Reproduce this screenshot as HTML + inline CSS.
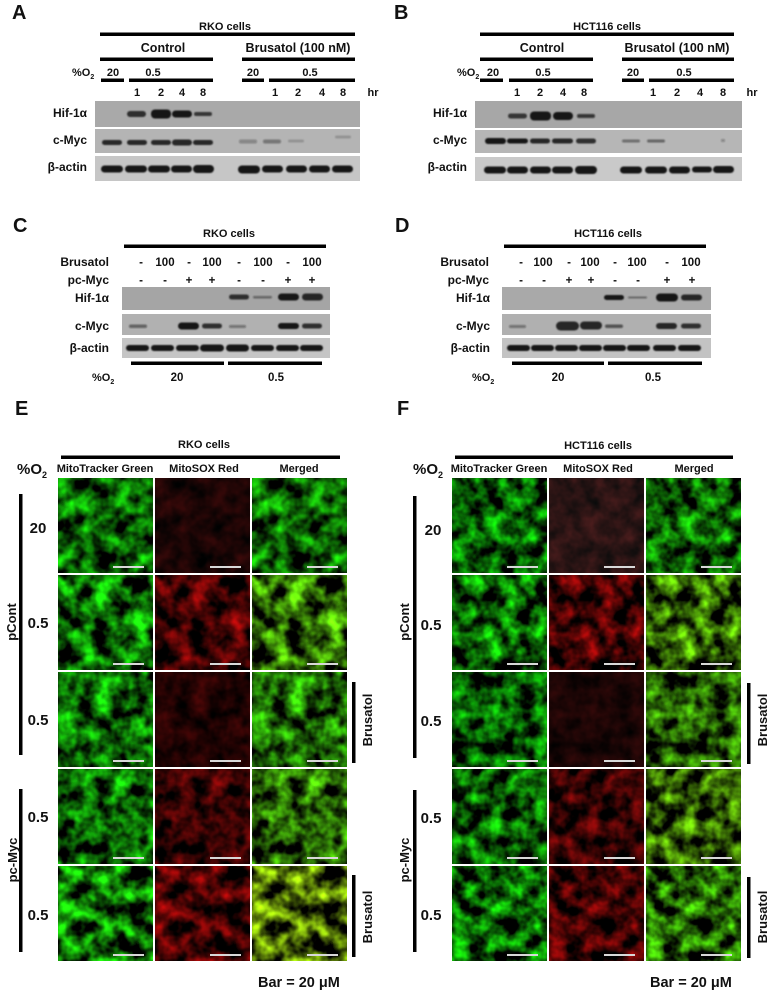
<!DOCTYPE html>
<html><head><meta charset="utf-8"><style>
html,body{margin:0;padding:0;background:#fff;}
svg{display:block;}
text{font-family:"Liberation Sans",Arial,sans-serif;font-weight:bold;fill:#111;}
</style></head><body>
<svg width="775" height="994" viewBox="0 0 775 994" xmlns="http://www.w3.org/2000/svg">
<defs>
<filter id="bl" x="-30%" y="-80%" width="160%" height="260%"><feGaussianBlur stdDeviation="0.9"/></filter>
<!-- E filters -->
<filter id="e1g" x="0" y="0" width="1" height="1" color-interpolation-filters="sRGB"><feTurbulence type="fractalNoise" baseFrequency="0.055" numOctaves="3" seed="11"/><feColorMatrix type="matrix" values="0.192 0 0 0 -0.06  1.92 0 0 0 -0.6  0.096 0 0 0 -0.03  0 0 0 0 1"/></filter>
<filter id="e1r" x="0" y="0" width="1" height="1" color-interpolation-filters="sRGB"><feTurbulence type="fractalNoise" baseFrequency="0.055" numOctaves="3" seed="11"/><feColorMatrix type="matrix" values="0.36 0 0 0 -0.0725  0.048 0 0 0 -0.005  0.048 0 0 0 -0.005  0 0 0 0 1"/></filter>
<filter id="e1m" x="0" y="0" width="1" height="1" color-interpolation-filters="sRGB"><feTurbulence type="fractalNoise" baseFrequency="0.055" numOctaves="3" seed="11"/><feColorMatrix type="matrix" values="0.24 0 0 0 -0.075  1.92 0 0 0 -0.6  0.096 0 0 0 -0.03  0 0 0 0 1"/></filter>

<filter id="e2g" x="0" y="0" width="1" height="1" color-interpolation-filters="sRGB"><feTurbulence type="fractalNoise" baseFrequency="0.055" numOctaves="3" seed="12"/><feColorMatrix type="matrix" values="0.24 0 0 0 -0.075  2.16 0 0 0 -0.675  0.12 0 0 0 -0.0375  0 0 0 0 1"/></filter>
<filter id="e2r" x="0" y="0" width="1" height="1" color-interpolation-filters="sRGB"><feTurbulence type="fractalNoise" baseFrequency="0.055" numOctaves="3" seed="12"/><feColorMatrix type="matrix" values="1.32 0 0 0 -0.4125  0.072 0 0 0 -0.0225  0.072 0 0 0 -0.0225  0 0 0 0 1"/></filter>
<filter id="e2m" x="0" y="0" width="1" height="1" color-interpolation-filters="sRGB"><feTurbulence type="fractalNoise" baseFrequency="0.055" numOctaves="3" seed="12"/><feColorMatrix type="matrix" values="0.96 0 0 0 -0.3  2.16 0 0 0 -0.675  0.12 0 0 0 -0.0375  0 0 0 0 1"/></filter>

<filter id="e3g" x="0" y="0" width="1" height="1" color-interpolation-filters="sRGB"><feTurbulence type="fractalNoise" baseFrequency="0.055" numOctaves="3" seed="13"/><feColorMatrix type="matrix" values="0.24 0 0 0 -0.075  2.16 0 0 0 -0.675  0.12 0 0 0 -0.0375  0 0 0 0 1"/></filter>
<filter id="e3r" x="0" y="0" width="1" height="1" color-interpolation-filters="sRGB"><feTurbulence type="fractalNoise" baseFrequency="0.055" numOctaves="3" seed="13"/><feColorMatrix type="matrix" values="0.528 0 0 0 -0.135  0.048 0 0 0 -0.015  0.048 0 0 0 -0.015  0 0 0 0 1"/></filter>
<filter id="e3m" x="0" y="0" width="1" height="1" color-interpolation-filters="sRGB"><feTurbulence type="fractalNoise" baseFrequency="0.055" numOctaves="3" seed="13"/><feColorMatrix type="matrix" values="0.6 0 0 0 -0.1875  2.16 0 0 0 -0.675  0.12 0 0 0 -0.0375  0 0 0 0 1"/></filter>

<filter id="e4g" x="0" y="0" width="1" height="1" color-interpolation-filters="sRGB"><feTurbulence type="fractalNoise" baseFrequency="0.055" numOctaves="3" seed="14"/><feColorMatrix type="matrix" values="0.24 0 0 0 -0.075  2.16 0 0 0 -0.675  0.12 0 0 0 -0.0375  0 0 0 0 1"/></filter>
<filter id="e4r" x="0" y="0" width="1" height="1" color-interpolation-filters="sRGB"><feTurbulence type="fractalNoise" baseFrequency="0.055" numOctaves="3" seed="14"/><feColorMatrix type="matrix" values="1.2 0 0 0 -0.375  0.072 0 0 0 -0.0225  0.072 0 0 0 -0.0225  0 0 0 0 1"/></filter>
<filter id="e4m" x="0" y="0" width="1" height="1" color-interpolation-filters="sRGB"><feTurbulence type="fractalNoise" baseFrequency="0.055" numOctaves="3" seed="14"/><feColorMatrix type="matrix" values="0.84 0 0 0 -0.2625  2.16 0 0 0 -0.675  0.12 0 0 0 -0.0375  0 0 0 0 1"/></filter>

<filter id="e5g" x="0" y="0" width="1" height="1" color-interpolation-filters="sRGB"><feTurbulence type="fractalNoise" baseFrequency="0.055" numOctaves="3" seed="15"/><feColorMatrix type="matrix" values="0.288 0 0 0 -0.09  2.28 0 0 0 -0.7125  0.12 0 0 0 -0.0375  0 0 0 0 1"/></filter>
<filter id="e5r" x="0" y="0" width="1" height="1" color-interpolation-filters="sRGB"><feTurbulence type="fractalNoise" baseFrequency="0.055" numOctaves="3" seed="15"/><feColorMatrix type="matrix" values="1.44 0 0 0 -0.45  0.072 0 0 0 -0.0225  0.072 0 0 0 -0.0225  0 0 0 0 1"/></filter>
<filter id="e5m" x="0" y="0" width="1" height="1" color-interpolation-filters="sRGB"><feTurbulence type="fractalNoise" baseFrequency="0.055" numOctaves="3" seed="15"/><feColorMatrix type="matrix" values="1.56 0 0 0 -0.4875  2.16 0 0 0 -0.675  0.144 0 0 0 -0.045  0 0 0 0 1"/></filter>
<!-- F filters -->
<filter id="f1g" x="0" y="0" width="1" height="1" color-interpolation-filters="sRGB"><feTurbulence type="fractalNoise" baseFrequency="0.06" numOctaves="3" seed="21"/><feColorMatrix type="matrix" values="0.144 0 0 0 -0.045  1.92 0 0 0 -0.6  0.096 0 0 0 -0.03  0 0 0 0 1"/></filter>
<filter id="f1r" x="0" y="0" width="1" height="1" color-interpolation-filters="sRGB"><feTurbulence type="fractalNoise" baseFrequency="0.06" numOctaves="3" seed="21"/><feColorMatrix type="matrix" values="0.36 0 0 0 -0.0125  0.096 0 0 0 0.03  0.096 0 0 0 0.03  0 0 0 0 1"/></filter>
<filter id="f1m" x="0" y="0" width="1" height="1" color-interpolation-filters="sRGB"><feTurbulence type="fractalNoise" baseFrequency="0.06" numOctaves="3" seed="21"/><feColorMatrix type="matrix" values="0.24 0 0 0 -0.075  1.92 0 0 0 -0.6  0.096 0 0 0 -0.03  0 0 0 0 1"/></filter>

<filter id="f2g" x="0" y="0" width="1" height="1" color-interpolation-filters="sRGB"><feTurbulence type="fractalNoise" baseFrequency="0.06" numOctaves="3" seed="22"/><feColorMatrix type="matrix" values="0.192 0 0 0 -0.06  1.92 0 0 0 -0.6  0.096 0 0 0 -0.03  0 0 0 0 1"/></filter>
<filter id="f2r" x="0" y="0" width="1" height="1" color-interpolation-filters="sRGB"><feTurbulence type="fractalNoise" baseFrequency="0.06" numOctaves="3" seed="22"/><feColorMatrix type="matrix" values="1.32 0 0 0 -0.4125  0.072 0 0 0 -0.0225  0.072 0 0 0 -0.0225  0 0 0 0 1"/></filter>
<filter id="f2m" x="0" y="0" width="1" height="1" color-interpolation-filters="sRGB"><feTurbulence type="fractalNoise" baseFrequency="0.06" numOctaves="3" seed="22"/><feColorMatrix type="matrix" values="0.96 0 0 0 -0.3  1.92 0 0 0 -0.6  0.096 0 0 0 -0.03  0 0 0 0 1"/></filter>

<filter id="f3g" x="0" y="0" width="1" height="1" color-interpolation-filters="sRGB"><feTurbulence type="fractalNoise" baseFrequency="0.06" numOctaves="3" seed="23"/><feColorMatrix type="matrix" values="0.144 0 0 0 -0.045  1.8 0 0 0 -0.5625  0.096 0 0 0 -0.03  0 0 0 0 1"/></filter>
<filter id="f3r" x="0" y="0" width="1" height="1" color-interpolation-filters="sRGB"><feTurbulence type="fractalNoise" baseFrequency="0.06" numOctaves="3" seed="23"/><feColorMatrix type="matrix" values="0.288 0 0 0 -0.04  0.048 0 0 0 -0.005  0.048 0 0 0 -0.005  0 0 0 0 1"/></filter>
<filter id="f3m" x="0" y="0" width="1" height="1" color-interpolation-filters="sRGB"><feTurbulence type="fractalNoise" baseFrequency="0.06" numOctaves="3" seed="23"/><feColorMatrix type="matrix" values="0.72 0 0 0 -0.225  1.8 0 0 0 -0.5625  0.096 0 0 0 -0.03  0 0 0 0 1"/></filter>

<filter id="f4g" x="0" y="0" width="1" height="1" color-interpolation-filters="sRGB"><feTurbulence type="fractalNoise" baseFrequency="0.06" numOctaves="3" seed="24"/><feColorMatrix type="matrix" values="0.192 0 0 0 -0.06  1.8 0 0 0 -0.5625  0.096 0 0 0 -0.03  0 0 0 0 1"/></filter>
<filter id="f4r" x="0" y="0" width="1" height="1" color-interpolation-filters="sRGB"><feTurbulence type="fractalNoise" baseFrequency="0.06" numOctaves="3" seed="24"/><feColorMatrix type="matrix" values="1.08 0 0 0 -0.3375  0.072 0 0 0 -0.0225  0.072 0 0 0 -0.0225  0 0 0 0 1"/></filter>
<filter id="f4m" x="0" y="0" width="1" height="1" color-interpolation-filters="sRGB"><feTurbulence type="fractalNoise" baseFrequency="0.06" numOctaves="3" seed="24"/><feColorMatrix type="matrix" values="0.96 0 0 0 -0.3  1.8 0 0 0 -0.5625  0.096 0 0 0 -0.03  0 0 0 0 1"/></filter>

<filter id="f5g" x="0" y="0" width="1" height="1" color-interpolation-filters="sRGB"><feTurbulence type="fractalNoise" baseFrequency="0.06" numOctaves="3" seed="25"/><feColorMatrix type="matrix" values="0.192 0 0 0 -0.06  2.04 0 0 0 -0.6375  0.096 0 0 0 -0.03  0 0 0 0 1"/></filter>
<filter id="f5r" x="0" y="0" width="1" height="1" color-interpolation-filters="sRGB"><feTurbulence type="fractalNoise" baseFrequency="0.06" numOctaves="3" seed="25"/><feColorMatrix type="matrix" values="1.32 0 0 0 -0.4125  0.072 0 0 0 -0.0225  0.072 0 0 0 -0.0225  0 0 0 0 1"/></filter>
<filter id="f5m" x="0" y="0" width="1" height="1" color-interpolation-filters="sRGB"><feTurbulence type="fractalNoise" baseFrequency="0.06" numOctaves="3" seed="25"/><feColorMatrix type="matrix" values="0.72 0 0 0 -0.225  2.04 0 0 0 -0.6375  0.096 0 0 0 -0.03  0 0 0 0 1"/></filter>
</defs>

<!-- ================= PANEL A ================= -->
<text x="12" y="19" font-size="20">A</text>
<text x="225" y="30" font-size="11" text-anchor="middle">RKO cells</text>
<rect x="100" y="32.5" width="255" height="3.5" fill="#000"/>
<text x="163" y="52" font-size="12.5" text-anchor="middle">Control</text>
<text x="298" y="52" font-size="12.5" text-anchor="middle">Brusatol (100 nM)</text>
<rect x="100" y="57.5" width="113" height="3.5" fill="#000"/>
<rect x="242" y="57.5" width="113" height="3.5" fill="#000"/>
<text x="72" y="76" font-size="11">%O<tspan font-size="7" dy="3">2</tspan></text>
<g font-size="11" text-anchor="middle">
<text x="113" y="76">20</text><text x="153" y="76">0.5</text>
<text x="253" y="76">20</text><text x="310" y="76">0.5</text>
<text x="137" y="96">1</text><text x="161" y="96">2</text><text x="182" y="96">4</text><text x="203" y="96">8</text>
<text x="275" y="96">1</text><text x="298" y="96">2</text><text x="322" y="96">4</text><text x="343" y="96">8</text>
<text x="373" y="96">hr</text>
</g>
<rect x="101" y="78.5" width="23" height="3.5" fill="#000"/>
<rect x="129" y="78.5" width="84" height="3.5" fill="#000"/>
<rect x="242" y="78.5" width="22" height="3.5" fill="#000"/>
<rect x="269" y="78.5" width="86" height="3.5" fill="#000"/>
<g font-size="12" text-anchor="end">
<text x="87" y="117">Hif-1α</text><text x="87" y="144">c-Myc</text><text x="87" y="171">β-actin</text>
</g>
<rect x="95" y="101" width="265" height="26" fill="#a9a9a9"/>
<rect x="95" y="129" width="265" height="24" fill="#b4b4b4"/>
<rect x="95" y="156" width="265" height="25" fill="#c6c6c6"/>
<g filter="url(#bl)" fill="#161616">
<rect x="127" y="111" width="19" height="6" rx="3" opacity="0.85"/>
<rect x="151" y="109.5" width="20" height="9" rx="4"/>
<rect x="172" y="110.5" width="20" height="7" rx="3.5"/>
<rect x="194" y="112" width="18" height="4" rx="2" opacity="0.8"/>
<rect x="102" y="140" width="20" height="5" rx="2.5" opacity="0.9"/>
<rect x="127" y="140" width="20" height="5" rx="2.5" opacity="0.9"/>
<rect x="151" y="140" width="20" height="5" rx="2.5" opacity="0.9"/>
<rect x="172" y="139.5" width="20" height="6" rx="3" opacity="0.9"/>
<rect x="193" y="140" width="20" height="5" rx="2.5" opacity="0.9"/>
<rect x="239" y="139.5" width="18" height="4" rx="2" opacity="0.3"/>
<rect x="263" y="139.5" width="18" height="4" rx="2" opacity="0.4"/>
<rect x="288" y="139.5" width="16" height="3" rx="1.5" opacity="0.18"/>
<rect x="335" y="135.5" width="16" height="3" rx="1.5" opacity="0.18"/>
<rect x="101" y="165.5" width="22" height="7" rx="3.5"/>
<rect x="125" y="165.5" width="22" height="7" rx="3.5"/>
<rect x="148" y="165.5" width="22" height="7" rx="3.5"/>
<rect x="171" y="165.5" width="21" height="7" rx="3.5"/>
<rect x="193" y="165" width="21" height="8" rx="4"/>
<rect x="238" y="165.5" width="22" height="8" rx="4"/>
<rect x="262" y="165.5" width="21" height="7" rx="3.5"/>
<rect x="286" y="165.5" width="21" height="7" rx="3.5"/>
<rect x="309" y="165.5" width="21" height="7" rx="3.5"/>
<rect x="332" y="165.5" width="21" height="7" rx="3.5"/>
</g>

<!-- ================= PANEL B ================= -->
<text x="394" y="19" font-size="20">B</text>
<text x="607" y="30" font-size="11" text-anchor="middle">HCT116 cells</text>
<rect x="480" y="32.5" width="254" height="3.5" fill="#000"/>
<text x="542" y="52" font-size="12.5" text-anchor="middle">Control</text>
<text x="677" y="52" font-size="12.5" text-anchor="middle">Brusatol (100 nM)</text>
<rect x="480" y="57.5" width="113" height="3.5" fill="#000"/>
<rect x="622" y="57.5" width="112" height="3.5" fill="#000"/>
<text x="457" y="76" font-size="11">%O<tspan font-size="7" dy="3">2</tspan></text>
<g font-size="11" text-anchor="middle">
<text x="493" y="76">20</text><text x="543" y="76">0.5</text>
<text x="633" y="76">20</text><text x="684" y="76">0.5</text>
<text x="517" y="96">1</text><text x="540" y="96">2</text><text x="563" y="96">4</text><text x="584" y="96">8</text>
<text x="653" y="96">1</text><text x="677" y="96">2</text><text x="700" y="96">4</text><text x="723" y="96">8</text>
<text x="752" y="96">hr</text>
</g>
<rect x="480" y="78.5" width="23" height="3.5" fill="#000"/>
<rect x="509" y="78.5" width="84" height="3.5" fill="#000"/>
<rect x="622" y="78.5" width="22" height="3.5" fill="#000"/>
<rect x="649" y="78.5" width="85" height="3.5" fill="#000"/>
<g font-size="12" text-anchor="end">
<text x="467" y="117">Hif-1α</text><text x="467" y="144">c-Myc</text><text x="467" y="171">β-actin</text>
</g>
<rect x="475" y="101" width="267" height="27" fill="#a7a7a7"/>
<rect x="475" y="130" width="267" height="23" fill="#b6b6b6"/>
<rect x="475" y="157" width="267" height="24" fill="#c9c9c9"/>
<g filter="url(#bl)" fill="#161616">
<rect x="508" y="113.5" width="19" height="5" rx="2.5" opacity="0.8"/>
<rect x="530" y="111.5" width="21" height="9" rx="4"/>
<rect x="553" y="112" width="20" height="8" rx="4"/>
<rect x="577" y="114" width="18" height="4" rx="2" opacity="0.75"/>
<rect x="485" y="138" width="21" height="6" rx="3"/>
<rect x="507" y="138.5" width="21" height="5" rx="2.5"/>
<rect x="530" y="138.5" width="20" height="5" rx="2.5" opacity="0.9"/>
<rect x="552" y="138.5" width="21" height="5" rx="2.5" opacity="0.9"/>
<rect x="576" y="138.5" width="20" height="5" rx="2.5" opacity="0.85"/>
<rect x="622" y="139.5" width="18" height="3" rx="1.5" opacity="0.45"/>
<rect x="647" y="139.5" width="18" height="3" rx="1.5" opacity="0.5"/>
<rect x="721" y="139" width="4" height="3" rx="1.5" opacity="0.3"/>
<rect x="484" y="166.5" width="22" height="7" rx="3.5"/>
<rect x="507" y="166.5" width="21" height="7" rx="3.5"/>
<rect x="530" y="166.5" width="21" height="7" rx="3.5"/>
<rect x="552" y="166.5" width="21" height="7" rx="3.5"/>
<rect x="575" y="166" width="22" height="8" rx="4"/>
<rect x="620" y="166.5" width="22" height="7" rx="3.5"/>
<rect x="645" y="166.5" width="22" height="7" rx="3.5"/>
<rect x="669" y="166.5" width="21" height="7" rx="3.5"/>
<rect x="692" y="166.5" width="20" height="6" rx="3"/>
<rect x="713" y="166" width="21" height="7" rx="3.5"/>
</g>

<!-- ================= PANEL C ================= -->
<text x="13" y="232" font-size="20">C</text>
<text x="229" y="237" font-size="11" text-anchor="middle">RKO cells</text>
<rect x="124" y="244.5" width="202" height="3.5" fill="#000"/>
<g font-size="12" text-anchor="end">
<text x="109" y="266">Brusatol</text>
<text x="109" y="284">pc-Myc</text>
<text x="109" y="302">Hif-1α</text>
<text x="109" y="330">c-Myc</text>
<text x="109" y="352">β-actin</text>
</g>
<g font-size="11.5" text-anchor="middle">
<text x="141" y="266">-</text><text x="165" y="266">100</text><text x="189" y="266">-</text><text x="212" y="266">100</text>
<text x="239" y="266">-</text><text x="263" y="266">100</text><text x="288" y="266">-</text><text x="312" y="266">100</text>
<text x="141" y="284">-</text><text x="165" y="284">-</text><text x="189" y="284">+</text><text x="212" y="284">+</text>
<text x="239" y="284">-</text><text x="263" y="284">-</text><text x="288" y="284">+</text><text x="312" y="284">+</text>
</g>
<rect x="122" y="287" width="208" height="23" fill="#a5a5a5"/>
<rect x="122" y="314" width="208" height="21" fill="#b1b1b1"/>
<rect x="122" y="338" width="208" height="20" fill="#c5c5c5"/>
<g filter="url(#bl)" fill="#161616">
<rect x="229" y="294.5" width="20" height="5" rx="2.5" opacity="0.85"/>
<rect x="253" y="296" width="19" height="2.5" rx="1.2" opacity="0.45"/>
<rect x="278" y="293.5" width="21" height="7" rx="3.5"/>
<rect x="302" y="293.5" width="21" height="7" rx="3.5" opacity="0.9"/>
<rect x="129" y="324.5" width="18" height="3.5" rx="1.7" opacity="0.5"/>
<rect x="178" y="322.5" width="21" height="7" rx="3.5"/>
<rect x="202" y="323.5" width="20" height="5" rx="2.5" opacity="0.85"/>
<rect x="229" y="325" width="17" height="3" rx="1.5" opacity="0.4"/>
<rect x="278" y="323" width="21" height="6" rx="3"/>
<rect x="302" y="323.5" width="20" height="5" rx="2.5" opacity="0.85"/>
<rect x="126" y="345" width="23" height="6" rx="3"/>
<rect x="151" y="345" width="23" height="6" rx="3"/>
<rect x="176" y="345" width="23" height="6" rx="3"/>
<rect x="200" y="344.5" width="24" height="7" rx="3.5"/>
<rect x="226" y="344.5" width="23" height="7" rx="3.5"/>
<rect x="251" y="345" width="23" height="6" rx="3"/>
<rect x="276" y="345" width="23" height="6" rx="3"/>
<rect x="300" y="345" width="23" height="6" rx="3"/>
</g>
<rect x="131" y="361.5" width="93" height="3.5" fill="#000"/>
<rect x="228" y="361.5" width="94" height="3.5" fill="#000"/>
<text x="92" y="381" font-size="11">%O<tspan font-size="7" dy="3">2</tspan></text>
<text x="177" y="381" font-size="11.5" text-anchor="middle">20</text>
<text x="276" y="381" font-size="11.5" text-anchor="middle">0.5</text>

<!-- ================= PANEL D ================= -->
<text x="395" y="232" font-size="20">D</text>
<text x="608" y="237" font-size="11" text-anchor="middle">HCT116 cells</text>
<rect x="504" y="244.5" width="202" height="3.5" fill="#000"/>
<g font-size="12" text-anchor="end">
<text x="489" y="266">Brusatol</text>
<text x="489" y="284">pc-Myc</text>
<text x="490" y="302">Hif-1α</text>
<text x="490" y="330">c-Myc</text>
<text x="490" y="352">β-actin</text>
</g>
<g font-size="11.5" text-anchor="middle">
<text x="521" y="266">-</text><text x="543" y="266">100</text><text x="569" y="266">-</text><text x="590" y="266">100</text>
<text x="615" y="266">-</text><text x="637" y="266">100</text><text x="667" y="266">-</text><text x="691" y="266">100</text>
<text x="521" y="284">-</text><text x="544" y="284">-</text><text x="569" y="284">+</text><text x="591" y="284">+</text>
<text x="615" y="284">-</text><text x="638" y="284">-</text><text x="667" y="284">+</text><text x="692" y="284">+</text>
</g>
<rect x="502" y="287" width="209" height="23" fill="#a9a9a9"/>
<rect x="502" y="314" width="209" height="21" fill="#b0b0b0"/>
<rect x="502" y="338" width="209" height="20" fill="#c3c3c3"/>
<g filter="url(#bl)" fill="#161616">
<rect x="604" y="295" width="20" height="5" rx="2.5"/>
<rect x="628" y="296.5" width="19" height="2" rx="1" opacity="0.45"/>
<rect x="656" y="293.5" width="22" height="8" rx="4"/>
<rect x="681" y="294.5" width="21" height="6" rx="3" opacity="0.9"/>
<rect x="509" y="325" width="17" height="3" rx="1.5" opacity="0.4"/>
<rect x="556" y="321.5" width="23" height="9" rx="4.5" opacity="0.9"/>
<rect x="580" y="321.5" width="22" height="8" rx="4" opacity="0.9"/>
<rect x="605" y="324.5" width="18" height="3.5" rx="1.7" opacity="0.6"/>
<rect x="656" y="323" width="21" height="6" rx="3" opacity="0.9"/>
<rect x="681" y="323.5" width="20" height="5" rx="2.5" opacity="0.85"/>
<rect x="507" y="345" width="23" height="6" rx="3"/>
<rect x="531" y="345" width="23" height="6" rx="3"/>
<rect x="555" y="345" width="23" height="6" rx="3"/>
<rect x="579" y="345" width="23" height="6" rx="3"/>
<rect x="603" y="345" width="23" height="6" rx="3"/>
<rect x="627" y="345" width="23" height="6" rx="3"/>
<rect x="653" y="345" width="23" height="6" rx="3"/>
<rect x="678" y="345" width="23" height="6" rx="3"/>
</g>
<rect x="512" y="361.5" width="92" height="3.5" fill="#000"/>
<rect x="608" y="361.5" width="94" height="3.5" fill="#000"/>
<text x="472" y="381" font-size="11">%O<tspan font-size="7" dy="3">2</tspan></text>
<text x="558" y="381" font-size="11.5" text-anchor="middle">20</text>
<text x="653" y="381" font-size="11.5" text-anchor="middle">0.5</text>

<!-- ================= PANEL E ================= -->
<text x="15" y="415" font-size="20">E</text>
<text x="204" y="448" font-size="11" text-anchor="middle">RKO cells</text>
<rect x="61" y="455.5" width="279" height="3.5" fill="#000"/>
<text x="17" y="474" font-size="15">%O<tspan font-size="9" dy="4">2</tspan></text>
<g font-size="11" text-anchor="middle">
<text x="105" y="472">MitoTracker Green</text>
<text x="204" y="472">MitoSOX Red</text>
<text x="299" y="472">Merged</text>
</g>
<g>
<g transform="translate(58,478)"><rect width="95" height="95" fill="#000"/><rect width="95" height="95" filter="url(#e1g)"/></g>
<g transform="translate(155,478)"><rect width="95" height="95" fill="#000"/><rect width="95" height="95" filter="url(#e1r)"/></g>
<g transform="translate(252,478)"><rect width="95" height="95" fill="#000"/><rect width="95" height="95" filter="url(#e1m)"/></g>
<g transform="translate(58,575)"><rect width="95" height="95" fill="#000"/><rect width="95" height="95" filter="url(#e2g)"/></g>
<g transform="translate(155,575)"><rect width="95" height="95" fill="#000"/><rect width="95" height="95" filter="url(#e2r)"/></g>
<g transform="translate(252,575)"><rect width="95" height="95" fill="#000"/><rect width="95" height="95" filter="url(#e2m)"/></g>
<g transform="translate(58,672)"><rect width="95" height="95" fill="#000"/><rect width="95" height="95" filter="url(#e3g)"/></g>
<g transform="translate(155,672)"><rect width="95" height="95" fill="#000"/><rect width="95" height="95" filter="url(#e3r)"/></g>
<g transform="translate(252,672)"><rect width="95" height="95" fill="#000"/><rect width="95" height="95" filter="url(#e3m)"/></g>
<g transform="translate(58,769)"><rect width="95" height="95" fill="#000"/><rect width="95" height="95" filter="url(#e4g)"/></g>
<g transform="translate(155,769)"><rect width="95" height="95" fill="#000"/><rect width="95" height="95" filter="url(#e4r)"/></g>
<g transform="translate(252,769)"><rect width="95" height="95" fill="#000"/><rect width="95" height="95" filter="url(#e4m)"/></g>
<g transform="translate(58,866)"><rect width="95" height="95" fill="#000"/><rect width="95" height="95" filter="url(#e5g)"/></g>
<g transform="translate(155,866)"><rect width="95" height="95" fill="#000"/><rect width="95" height="95" filter="url(#e5r)"/></g>
<g transform="translate(252,866)"><rect width="95" height="95" fill="#000"/><rect width="95" height="95" filter="url(#e5m)"/></g>
</g>
<g fill="#d8d8d8">
<rect x="113" y="566" width="31" height="2"/><rect x="210" y="566" width="31" height="2"/><rect x="307" y="566" width="31" height="2"/>
<rect x="113" y="663" width="31" height="2"/><rect x="210" y="663" width="31" height="2"/><rect x="307" y="663" width="31" height="2"/>
<rect x="113" y="760" width="31" height="2"/><rect x="210" y="760" width="31" height="2"/><rect x="307" y="760" width="31" height="2"/>
<rect x="113" y="857" width="31" height="2"/><rect x="210" y="857" width="31" height="2"/><rect x="307" y="857" width="31" height="2"/>
<rect x="113" y="954" width="31" height="2"/><rect x="210" y="954" width="31" height="2"/><rect x="307" y="954" width="31" height="2"/>
</g>
<rect x="19" y="494" width="3.5" height="261" fill="#000"/>
<rect x="19" y="789" width="3.5" height="163" fill="#000"/>
<rect x="352" y="682" width="3.5" height="81" fill="#000"/>
<rect x="352" y="875" width="3.5" height="82" fill="#000"/>
<g font-size="15" text-anchor="middle">
<text x="38" y="533">20</text>
<text x="38" y="628">0.5</text>
<text x="38" y="725">0.5</text>
<text x="38" y="822">0.5</text>
<text x="38" y="920">0.5</text>
</g>
<g font-size="13" text-anchor="middle">
<text transform="translate(16,622) rotate(-90)">pCont</text>
<text transform="translate(17,860) rotate(-90)">pc-Myc</text>
<text transform="translate(372,720) rotate(-90)">Brusatol</text>
<text transform="translate(372,917) rotate(-90)">Brusatol</text>
</g>
<text x="258" y="987" font-size="14.5">Bar = 20 μM</text>

<!-- ================= PANEL F ================= -->
<text x="397" y="415" font-size="20">F</text>
<text x="598" y="449" font-size="11" text-anchor="middle">HCT116 cells</text>
<rect x="455" y="455.5" width="278" height="3.5" fill="#000"/>
<text x="413" y="474" font-size="15">%O<tspan font-size="9" dy="4">2</tspan></text>
<g font-size="11" text-anchor="middle">
<text x="499" y="472">MitoTracker Green</text>
<text x="598" y="472">MitoSOX Red</text>
<text x="694" y="472">Merged</text>
</g>
<g>
<g transform="translate(452,478)"><rect width="95" height="95" fill="#000"/><rect width="95" height="95" filter="url(#f1g)"/></g>
<g transform="translate(549,478)"><rect width="95" height="95" fill="#000"/><rect width="95" height="95" filter="url(#f1r)"/></g>
<g transform="translate(646,478)"><rect width="95" height="95" fill="#000"/><rect width="95" height="95" filter="url(#f1m)"/></g>
<g transform="translate(452,575)"><rect width="95" height="95" fill="#000"/><rect width="95" height="95" filter="url(#f2g)"/></g>
<g transform="translate(549,575)"><rect width="95" height="95" fill="#000"/><rect width="95" height="95" filter="url(#f2r)"/></g>
<g transform="translate(646,575)"><rect width="95" height="95" fill="#000"/><rect width="95" height="95" filter="url(#f2m)"/></g>
<g transform="translate(452,672)"><rect width="95" height="95" fill="#000"/><rect width="95" height="95" filter="url(#f3g)"/></g>
<g transform="translate(549,672)"><rect width="95" height="95" fill="#000"/><rect width="95" height="95" filter="url(#f3r)"/></g>
<g transform="translate(646,672)"><rect width="95" height="95" fill="#000"/><rect width="95" height="95" filter="url(#f3m)"/></g>
<g transform="translate(452,769)"><rect width="95" height="95" fill="#000"/><rect width="95" height="95" filter="url(#f4g)"/></g>
<g transform="translate(549,769)"><rect width="95" height="95" fill="#000"/><rect width="95" height="95" filter="url(#f4r)"/></g>
<g transform="translate(646,769)"><rect width="95" height="95" fill="#000"/><rect width="95" height="95" filter="url(#f4m)"/></g>
<g transform="translate(452,866)"><rect width="95" height="95" fill="#000"/><rect width="95" height="95" filter="url(#f5g)"/></g>
<g transform="translate(549,866)"><rect width="95" height="95" fill="#000"/><rect width="95" height="95" filter="url(#f5r)"/></g>
<g transform="translate(646,866)"><rect width="95" height="95" fill="#000"/><rect width="95" height="95" filter="url(#f5m)"/></g>
</g>
<g fill="#d8d8d8">
<rect x="507" y="566" width="31" height="2"/><rect x="604" y="566" width="31" height="2"/><rect x="701" y="566" width="31" height="2"/>
<rect x="507" y="663" width="31" height="2"/><rect x="604" y="663" width="31" height="2"/><rect x="701" y="663" width="31" height="2"/>
<rect x="507" y="760" width="31" height="2"/><rect x="604" y="760" width="31" height="2"/><rect x="701" y="760" width="31" height="2"/>
<rect x="507" y="857" width="31" height="2"/><rect x="604" y="857" width="31" height="2"/><rect x="701" y="857" width="31" height="2"/>
<rect x="507" y="954" width="31" height="2"/><rect x="604" y="954" width="31" height="2"/><rect x="701" y="954" width="31" height="2"/>
</g>
<rect x="413" y="496" width="3.5" height="262" fill="#000"/>
<rect x="413" y="790" width="3.5" height="162" fill="#000"/>
<rect x="747" y="683" width="3.5" height="81" fill="#000"/>
<rect x="747" y="877" width="3.5" height="81" fill="#000"/>
<g font-size="15" text-anchor="middle">
<text x="433" y="535">20</text>
<text x="431" y="630">0.5</text>
<text x="431" y="726">0.5</text>
<text x="431" y="823">0.5</text>
<text x="431" y="920">0.5</text>
</g>
<g font-size="13" text-anchor="middle">
<text transform="translate(409,622) rotate(-90)">pCont</text>
<text transform="translate(409,860) rotate(-90)">pc-Myc</text>
<text transform="translate(767,720) rotate(-90)">Brusatol</text>
<text transform="translate(767,917) rotate(-90)">Brusatol</text>
</g>
<text x="650" y="987" font-size="14.5">Bar = 20 μM</text>
</svg>
</body></html>
